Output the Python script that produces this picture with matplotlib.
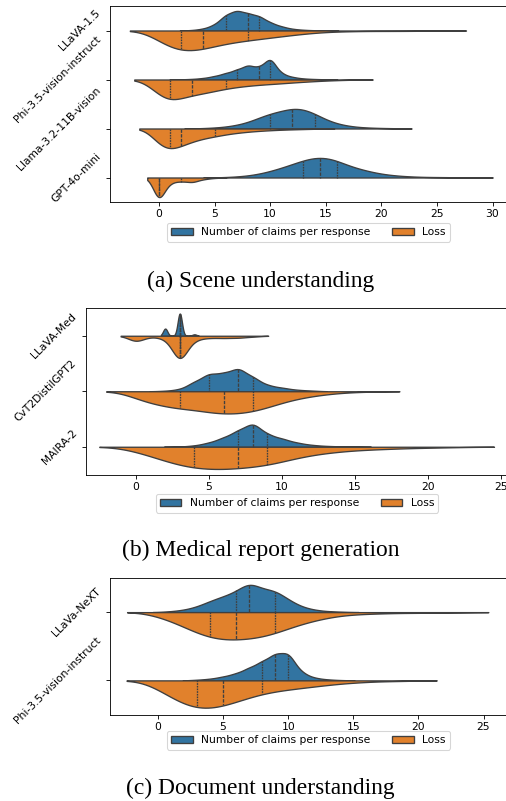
import numpy as np
import pandas as pd
import matplotlib
matplotlib.use("Agg")
import matplotlib.pyplot as plt
import seaborn as sns

# number of responses at each integer value (list index = value)
metrics = ["Number of claims per response", "Loss"]

scene_models = ["LLaVA-1.5", "Phi-3.5-vision-instruct", "Llama-3.2-11B-vision", "GPT-4o-mini"]
scene_claims = [
    [0, 0, 0, 2, 8, 25, 70, 90, 75, 65, 35, 18, 7, 3, 1, 1],
    [0, 0, 2, 6, 15, 35, 65, 100, 150, 120, 230, 60, 25, 10, 5, 2],
    [0, 0, 0, 0, 1, 2, 4, 8, 14, 25, 35, 40, 48, 46, 35, 20, 11, 6, 3, 2, 1, 1],
    [0, 0, 0, 0, 0, 0, 1, 2, 4, 8, 14, 22, 30, 40, 47, 47, 40, 26, 20, 13, 8, 5, 3, 2, 1, 1, 1, 0, 1],
]
scene_loss = [
    [26, 41, 48, 47, 42, 34, 29, 25, 22, 19, 16, 13, 10, 7, 5, 3, 2, 2, 1, 1, 1, 1, 1, 1, 0, 1],
    [60, 78, 54, 48, 43, 36, 27, 23, 19, 16, 14, 12, 9, 7, 5, 3, 2, 1],
    [65, 80, 60, 45, 34, 28, 20, 15, 11, 8, 6, 4, 3, 2, 1],
    [60, 12, 9, 12, 4, 1],
]

medical_models = ["LLaVA-Med", "CvT2DistilGPT2", "MAIRA-2"]
medical_claims = [
    [0, 0, 100, 310, 20],
    [0, 0, 2, 8, 40, 75, 75, 100, 60, 25, 15, 6, 3],
    [0, 0, 0, 1, 6, 20, 45, 80, 120, 60, 40, 20, 9, 4, 2, 1],
]
medical_loss = [
    [55, 8, 25, 240, 35, 18, 20, 18, 8],
    [14, 22, 27, 32, 32, 38, 41, 40, 37, 29, 20, 13, 9, 5, 3, 1, 1],
    [9, 16, 25, 34, 38, 40, 40, 38, 35, 34, 26, 19, 14, 11, 8, 6, 5, 4, 3, 2, 2, 1, 1],
]

doc_models = ["LLaVa-NeXT", "Phi-3.5-vision-instruct"]
doc_claims = [
    [0, 2, 5, 12, 25, 35, 45, 70, 50, 50, 28, 12, 5, 2, 1],
    [0, 0, 0, 2, 5, 12, 22, 40, 60, 85, 90, 25, 8, 3, 1],
]
doc_loss = [
    [6, 11, 19, 28, 34, 37, 36, 35, 33, 28, 21, 15, 11, 7, 4, 3, 2, 2, 1, 1, 1, 1, 0, 1],
    [12, 22, 33, 38, 38, 34, 28, 22, 17, 14, 12, 10, 8, 6, 4, 3, 2, 1, 1, 1],
]


def to_frame(models, claims, loss):
    parts = []
    for m, c, l in zip(models, claims, loss):
        for metric, counts in zip(metrics, (c, l)):
            vals = np.repeat(np.arange(len(counts)), counts)
            parts.append(pd.DataFrame({"model": m, "metric": metric, "value": vals}))
    return pd.concat(parts, ignore_index=True)


fig = plt.figure(figsize=(506 / 77, 801 / 77), dpi=77)


def panel(rect, models, claims, loss, xlim, xticks, leg_xy, caption, cap_y):
    ax = fig.add_axes(rect)
    df = to_frame(models, claims, loss)
    sns.violinplot(data=df, x="value", y="model", hue="metric", order=models,
                   hue_order=metrics, split=True, inner="quart",
                   density_norm="width", orient="h", ax=ax)
    ax.set_xlim(*xlim)
    ax.set_xticks(xticks)
    ax.set_xlabel("")
    ax.set_ylabel("")
    for lab in ax.get_yticklabels():
        lab.set_rotation(45)
        lab.set_va("center")
        lab.set_ha("right")
    handles = ax.get_legend().legend_handles
    ax.get_legend().remove()
    ax.legend(handles, metrics, loc="upper center", bbox_to_anchor=leg_xy,
              bbox_transform=fig.transFigure, ncol=2, borderaxespad=0)
    fig.text(0.515, cap_y, caption, ha="center", va="center",
             fontsize=22, family="Liberation Serif")
    return ax


W = 506
H = 801
panel([110 / W, 1 - 202 / H, 397 / W, 196 / H], scene_models, scene_claims, scene_loss,
      (-4.4, 31.3), range(0, 31, 5), (308.5 / W, 1 - 223 / H),
      "(a) Scene understanding", 1 - 281 / H)
panel([86 / W, 1 - 474.5 / H, 421 / W, 166.5 / H], medical_models, medical_claims, medical_loss,
      (-3.42, 25.4), range(0, 26, 5), (297 / W, 1 - 494 / H),
      "(b) Medical report generation", 1 - 550 / H)
panel([110 / W, 1 - 714.5 / H, 397 / W, 136.5 / H], doc_models, doc_claims, doc_loss,
      (-3.68, 26.8), range(0, 26, 5), (308.5 / W, 1 - 731 / H),
      "(c) Document understanding", 1 - 788 / H)

fig.savefig("out.png", dpi=77)
